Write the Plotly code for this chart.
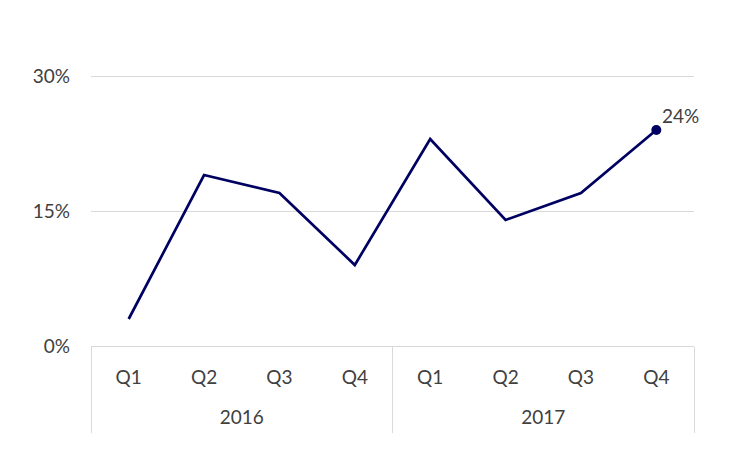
import plotly.graph_objects as go

# DATA
years = ['2016', '2016', '2016', '2016', '2017', '2017', '2017', '2017']
quarters = ['Q1', 'Q2', 'Q3', 'Q4', 'Q1', 'Q2', 'Q3', 'Q4']
share = [0.03, 0.19, 0.17, 0.09, 0.23, 0.14, 0.17, 0.24]
y_ticks = [0, 0.15, 0.30]
year_labels = ['2016', '2017']

navy = '#000062'
grey_txt = '#404040'
grid = '#d9d9d9'
fsize = 19

# one category per quarter, quarter text shown as tick label
keys = [y + ' ' + q for y, q in zip(years, quarters)]
# year label sits in the middle of its four quarters
year_pos = [sum(i for i, y in enumerate(years) if y == yl) / years.count(yl) for yl in year_labels]
# group edges (category index space)
edges = [-0.5] + [i + 0.5 for i in range(len(years) - 1) if years[i] != years[i + 1]] + [len(years) - 0.5]

# only the last point gets a marker
sizes = [0] * (len(share) - 1) + [10]

fig = go.Figure()
fig.add_trace(go.Scatter(
    x=keys, y=share,
    mode='lines+markers',
    line=dict(color=navy, width=2.7),
    marker=dict(color=navy, size=sizes, opacity=1, line=dict(width=0)),
    cliponaxis=False, showlegend=False, hoverinfo='skip',
))
# empty helpers so the overlay axes (dividers, year row) get drawn
fig.add_trace(go.Scatter(x=edges, y=[None] * len(edges), xaxis='x2',
                         showlegend=False, hoverinfo='skip'))
fig.add_trace(go.Scatter(x=year_pos, y=[None] * len(year_pos), xaxis='x3',
                         showlegend=False, hoverinfo='skip'))

# value label on the last point
fig.add_annotation(x=keys[-1], y=share[-1], text='{:.0%}'.format(share[-1]),
                   showarrow=False, xanchor='left', yanchor='bottom',
                   xshift=4, yshift=1, font=dict(size=fsize, color=grey_txt))

xr = [-0.5, len(keys) - 0.5]
top, bottom = 62, 111
plot_h = 449 - top - bottom
fig.update_layout(
    width=729, height=449,
    margin=dict(l=83, r=43, t=top, b=bottom),
    plot_bgcolor='white', paper_bgcolor='white',
    font=dict(family='Lato, Noto Sans, sans-serif', size=fsize, color=grey_txt),
    xaxis=dict(
        type='category', categoryarray=keys, range=xr,
        tickvals=keys, ticktext=quarters, ticks='', ticklabelstandoff=14,
        showgrid=False, showline=True, linecolor=grid, linewidth=1.3,
        automargin=False,
    ),
    # divider lines between the year groups
    xaxis2=dict(
        overlaying='x', anchor='y', side='bottom', range=xr,
        tickvals=edges, ticktext=[''] * len(edges),
        ticks='outside', ticklen=86, tickcolor=grid, tickwidth=1.3,
        showgrid=False, showline=False, zeroline=False, automargin=False,
    ),
    # year labels
    xaxis3=dict(
        overlaying='x', anchor='y', side='bottom', range=xr,
        tickvals=year_pos, ticktext=year_labels, ticks='', ticklabelstandoff=58,
        showgrid=False, showline=False, zeroline=False, automargin=False,
    ),
    yaxis=dict(
        range=[0, plot_h / 900], tickvals=y_ticks, tickformat='.0%',
        showgrid=True, gridcolor=grid, gridwidth=1.3, ticklabelstandoff=20,
        zeroline=False, showline=False, ticks='', automargin=False,
    ),
)

fig.write_html('out.html')
